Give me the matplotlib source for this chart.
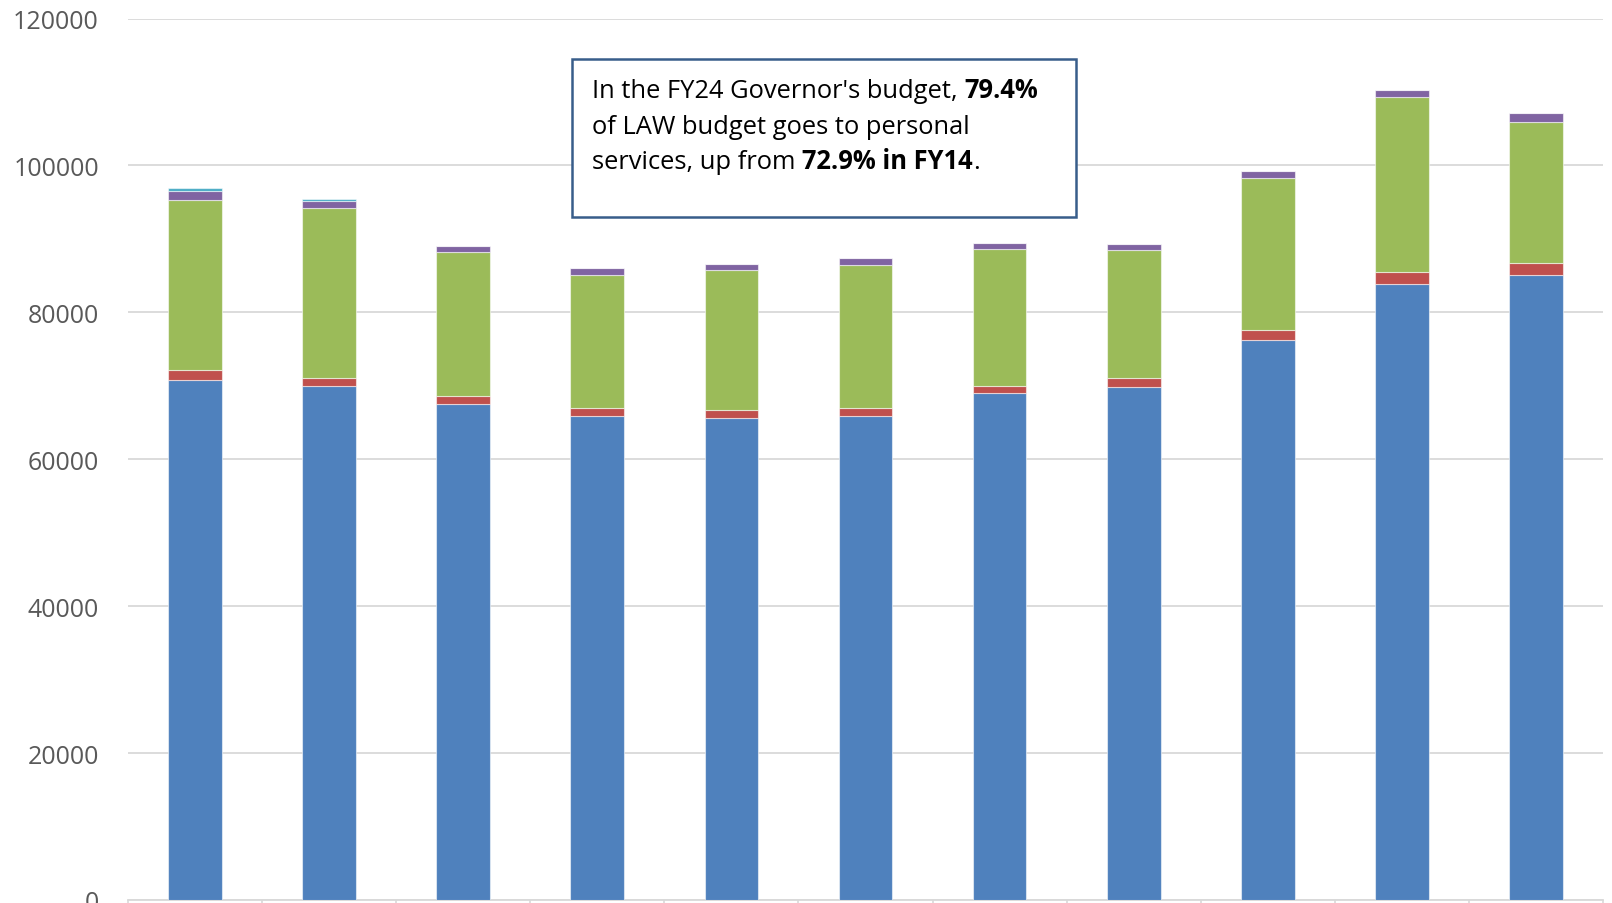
import matplotlib
matplotlib.use("Agg")
import matplotlib.pyplot as plt
import numpy as np

years = ["FY14", "FY15", "FY16", "FY17", "FY18", "FY19", "FY20", "FY21", "FY22", "FY23", "FY24"]
personal = [70756, 69939, 67490, 65938, 65583, 65856, 68987, 69804, 76286, 83826, 85051]
series2 = [1443, 1171, 1130, 1089, 1131, 1130, 994, 1266, 1362, 1715, 1716]
series3 = [23104, 23063, 19604, 18067, 19061, 19511, 18612, 17428, 20652, 23785, 19156]
series4 = [1225, 994, 816, 912, 858, 871, 817, 817, 953, 994, 1184]
series5 = [409, 272, 0, 0, 0, 0, 0, 0, 0, 0, 0]
yticks = [0, 20000, 40000, 60000, 80000, 100000, 120000]

colors = ["#4F81BD", "#C0504D", "#9BBB59", "#8064A2", "#4BACC6"]

W, H = 1612, 904
fig = plt.figure(figsize=(W / 100, H / 100), dpi=100)
ax = fig.add_axes([128 / W, (H - 901) / H, (1603 - 128) / W, (901 - 19.5) / H])

x = np.arange(len(years))
bottom = np.zeros(len(years))
for vals, c in zip([personal, series2, series3, series4, series5], colors):
    vals = np.array(vals, dtype=float)
    ax.bar(x, vals, width=0.4, bottom=bottom, color=c,
           edgecolor=(1, 1, 1, 0.55), linewidth=0.8, zorder=3)
    bottom += vals

ax.set_xlim(-0.5, len(years) - 0.5)
ax.set_ylim(0, 120000)
ax.set_yticks(yticks)
ax.set_yticklabels([str(v) for v in yticks], fontsize=18, color="#595959",
                   family=["Open Sans", "DejaVu Sans"])
ax.tick_params(axis="y", length=0, pad=21)
ax.set_xticks(np.arange(len(years) + 1) - 0.5)
ax.set_xticklabels([])
ax.tick_params(axis="x", length=8, color="#d9d9d9", width=1.2, direction="out")
ax.grid(axis="y", color="#d9d9d9", linewidth=1.3, zorder=0)
ax.set_axisbelow(True)
for s in ["top", "right", "left"]:
    ax.spines[s].set_visible(False)
ax.spines["bottom"].set_color("#d9d9d9")
ax.spines["bottom"].set_linewidth(1.3)

# text box
bx0, bx1, by0, by1 = 572, 1076, 60, 218
rect = plt.Rectangle((bx0 / W, 1 - by1 / H), (bx1 - bx0) / W, (by1 - by0) / H,
                     transform=fig.transFigure, facecolor="white",
                     edgecolor="#385D8A", linewidth=1.8, zorder=10)
fig.patches.append(rect)

lines = [
    [("In the FY24 Governor's budget, ", "normal"), ("79.4%", "bold")],
    [("of LAW budget goes to personal", "normal")],
    [("services, up from ", "normal"), ("72.9% in FY14", "bold"), (".", "normal")],
]
fig.canvas.draw()
renderer = fig.canvas.get_renderer()
tx0 = 592
baselines = [98, 133.5, 169]
fs = 18.4
for line, base in zip(lines, baselines):
    xpos = tx0
    for txt, wt in line:
        t = fig.text(xpos / W, 1 - base / H, txt, fontsize=fs, fontweight=wt,
                     family=["Open Sans", "DejaVu Sans"], color="black",
                     va="baseline", ha="left", zorder=11)
        bb = t.get_window_extent(renderer=renderer)
        xpos += bb.width

fig.savefig("out.png", dpi=100)
